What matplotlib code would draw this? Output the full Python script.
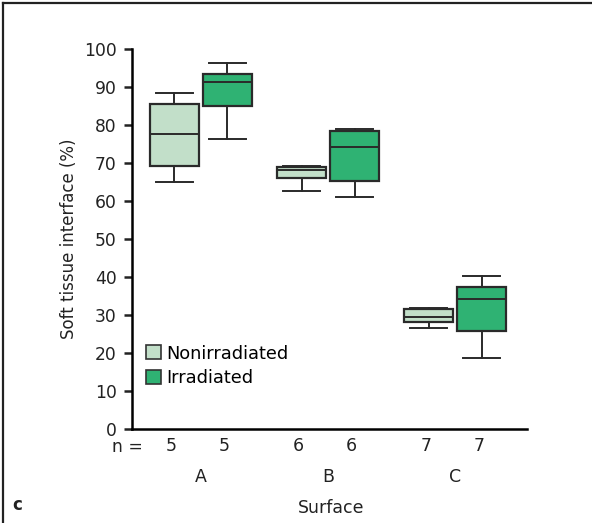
import matplotlib
matplotlib.use('Agg')
import matplotlib.pyplot as plt
import matplotlib.transforms as mtransforms
from matplotlib.patches import Patch
from matplotlib.lines import Line2D

# box statistics (percent)
surfaces = ['A', 'B', 'C']
groups = ['Nonirradiated', 'Irradiated']
n_counts = [5, 5, 6, 6, 7, 7]
whislo = [65.1, 76.2, 62.6, 61.1, 26.5, 18.8]
q1 = [69.3, 85.0, 66.1, 65.3, 28.1, 25.8]
med = [77.6, 91.3, 68.2, 74.1, 29.5, 34.3]
q3 = [85.4, 93.5, 69.0, 78.4, 31.7, 37.3]
whishi = [88.3, 96.4, 69.2, 78.9, 31.9, 40.2]
colors = ['#c2dfc9', '#2fb273']

positions = [1, 2, 3.4, 4.4, 5.8, 6.8]
txt = '#222222'

fig = plt.figure(figsize=(5.92, 5.23), dpi=100)
ax = fig.add_axes([0.223, 0.1797, 0.667, 0.7266])

stats = []
for i in range(len(positions)):
    stats.append({'whislo': whislo[i], 'q1': q1[i], 'med': med[i],
                  'q3': q3[i], 'whishi': whishi[i], 'fliers': []})

bp = ax.bxp(stats, positions=positions, widths=0.92, capwidths=0.7,
            patch_artist=True, showfliers=False,
            boxprops=dict(edgecolor='#2a2a2a', linewidth=1.6),
            medianprops=dict(color='#2a2a2a', linewidth=1.4),
            whiskerprops=dict(color='#2a2a2a', linewidth=1.4),
            capprops=dict(color='#2a2a2a', linewidth=1.4))
for i, box in enumerate(bp['boxes']):
    box.set_facecolor(colors[i % 2])

ax.set_xlim(0.2, 7.65)
ax.set_ylim(0, 100)
ax.set_yticks(range(0, 101, 10))
ax.set_xticks([])
ax.spines['top'].set_visible(False)
ax.spines['right'].set_visible(False)
ax.spines['left'].set_linewidth(1.8)
ax.spines['bottom'].set_linewidth(1.8)
ax.tick_params(axis='y', direction='out', length=6, width=1.8, labelsize=12.3,
               colors=txt, pad=5)
ax.set_ylabel('Soft tissue interface (%)', fontsize=12, color=txt, labelpad=4)

# n = row and group letters
trans = mtransforms.blended_transform_factory(ax.transAxes, ax.transData)
ax.text(0.028, -4.8, 'n =', transform=trans, ha='right', va='center',
        fontsize=12.3, color=txt, clip_on=False)
for p, n in zip(positions, n_counts):
    ax.text(p - 0.06, -4.6, str(n), ha='center', va='center', fontsize=12.5,
            color=txt, clip_on=False)
for k, s in enumerate(surfaces):
    ax.text((positions[2 * k] + positions[2 * k + 1]) / 2, -12.6, s, ha='center',
            va='center', fontsize=12.5, color=txt, clip_on=False)
ax.text(3.95, -20.8, 'Surface', ha='center', va='center', fontsize=12.5,
        color=txt, clip_on=False)
fig.text(0.02, 0.025, 'c', fontsize=12, fontweight='bold', color=txt)

handles = [Patch(facecolor=colors[0], edgecolor='#333333', linewidth=1.2),
           Patch(facecolor=colors[1], edgecolor='#333333', linewidth=1.2)]
ax.legend(handles, groups, loc='upper left', bbox_to_anchor=(0.003, 0.255),
          frameon=False, fontsize=12.8, handlelength=0.85, handleheight=0.85,
          handletextpad=0.3, labelspacing=0.35, borderaxespad=0.3)

# frame lines at top and left of the figure
fig.add_artist(Line2D([0.005, 1.0], [0.995, 0.995], color=txt, linewidth=1.6))
fig.add_artist(Line2D([0.005, 0.005], [0.0, 0.995], color=txt, linewidth=1.6))

fig.savefig('out.png', dpi=100)
